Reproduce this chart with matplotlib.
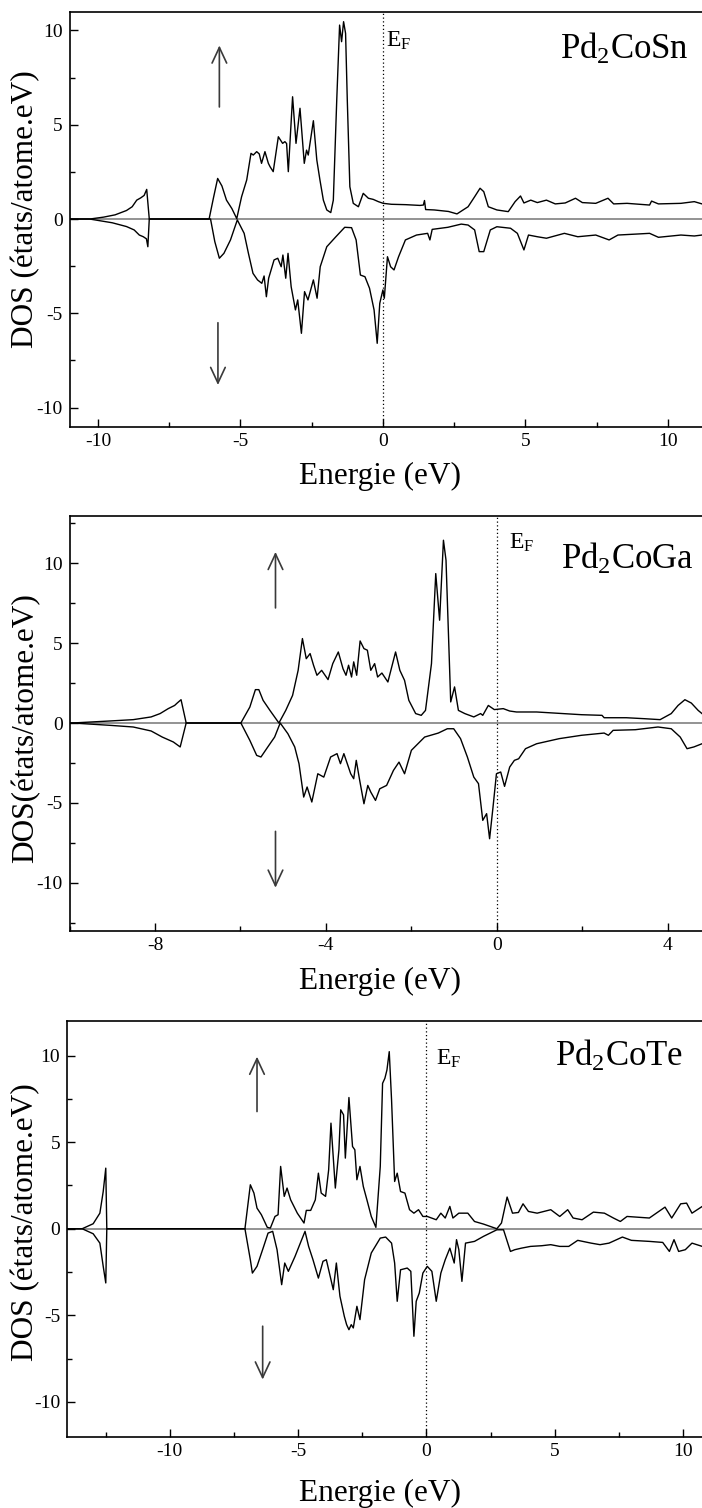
import matplotlib
matplotlib.use("Agg")
import matplotlib.pyplot as plt
from matplotlib.ticker import MultipleLocator

plt.rcParams['font.family'] = ['Liberation Serif', 'DejaVu Serif']
plt.rcParams['mathtext.fontset'] = 'custom'
plt.rcParams['mathtext.rm'] = 'Liberation Serif'
plt.rcParams['mathtext.it'] = 'Liberation Serif:italic'
plt.rcParams['axes.unicode_minus'] = False

# Pd2CoSn
sn_up_e = [-11.0, -10.28, -9.8, -9.4, -9.0, -8.8, -8.64, -8.5, -8.38, -8.29, -8.2, -6.1, -5.95, -5.80, -5.65,
           -5.49, -5.3, -5.13, -4.96, -4.78, -4.63, -4.55, -4.43, -4.34, -4.26, -4.14, -4.02, -3.96, -3.85,
           -3.67, -3.52, -3.44, -3.38, -3.32, -3.17, -3.05, -2.91, -2.76, -2.68, -2.62, -2.44, -2.32, -2.21,
           -2.09, -1.97, -1.83, -1.74, -1.62, -1.52, -1.45, -1.38, -1.31, -1.25, -1.16, -1.04, -0.86, -0.69,
           -0.51, -0.34, -0.16, 0.01, 0.3, 0.8, 1.3, 1.42, 1.46, 1.5, 1.8, 2.3, 2.6, 2.99, 3.22, 3.41, 3.54,
           3.7, 4.0, 4.4, 4.64, 4.83, 4.95, 5.19, 5.42, 5.74, 6.05, 6.4, 6.76, 7.0, 7.47, 7.9, 8.1, 8.57,
           9.36, 9.43, 9.67, 10.46, 10.93, 11.2]
sn_up_dos = [0, 0, 0.1, 0.22, 0.45, 0.65, 1.0, 1.12, 1.25, 1.57, 0, 0, 1.1, 2.15, 1.75,
             1.0, 0.55, 0.02, 1.18, 2.07, 3.48, 3.39, 3.57, 3.45, 2.95, 3.57, 2.95, 2.77, 2.51,
             4.36, 4.01, 4.10, 4.0, 2.51, 6.48, 4.01, 5.87, 2.95, 3.65, 3.39, 5.21, 3.13, 2.07,
             1.0, 0.48, 0.34, 1.0, 6.31, 10.28, 9.40, 10.46, 9.84, 6.31, 1.71, 0.83, 0.65, 1.36,
             1.10, 1.04, 0.92, 0.83, 0.78, 0.76, 0.72, 0.74, 0.98, 0.5, 0.48, 0.4, 0.27, 0.65, 1.18, 1.63, 1.45,
             0.65, 0.48, 0.39, 0.92, 1.22, 0.85, 1.0, 0.87, 1.0, 0.8, 0.85, 1.1, 0.87, 0.83, 1.1, 0.8, 0.83,
             0.74, 0.95, 0.8, 0.83, 0.92, 0.8]
sn_dn_e = [-11.0, -10.3, -9.5, -9.0, -8.73, -8.55, -8.41, -8.3, -8.25, -8.2, -6.05, -5.9, -5.74, -5.58,
           -5.35, -5.11, -4.87, -4.72, -4.56, -4.40, -4.25, -4.17, -4.09, -4.01, -3.82, -3.69, -3.57, -3.51,
           -3.41, -3.33, -3.22, -3.07, -2.99, -2.86, -2.75, -2.63, -2.44, -2.31, -2.2, -1.97, -1.65, -1.34,
           -1.1, -0.94, -0.79, -0.63, -0.47, -0.31, -0.2, -0.11, 0.0, 0.05, 0.16, 0.27, 0.39, 0.55, 0.79,
           1.18, 1.57, 1.65, 1.73, 2.28, 2.75, 2.99, 3.22, 3.38, 3.54, 3.77, 4.0, 4.48, 4.72, 4.95, 5.11,
           5.42, 5.74, 6.37, 6.84, 7.47, 7.94, 8.25, 8.88, 9.36, 9.67, 10.46, 10.93, 11.2]
sn_dn_dos = [0, 0, -0.2, -0.4, -0.58, -0.85, -0.94, -1.05, -1.47, 0, 0, -1.2, -2.08, -1.82,
             -1.11, -0.05, -0.76, -1.82, -2.88, -3.23, -3.41, -3.02, -4.12, -3.14, -2.17, -2.08, -2.53, -1.91,
             -3.14, -1.82, -3.59, -4.82, -4.29, -6.06, -3.85, -4.29, -3.23, -4.20, -2.53, -1.47, -0.94, -0.44,
             -0.46, -1.11, -2.97, -3.06, -3.67, -4.82, -6.59, -4.47, -3.76, -4.20, -2.0, -2.53, -2.70, -2.0, -1.11,
             -0.85, -0.76, -1.11, -0.55, -0.44, -0.27, -0.32, -0.58, -1.73, -1.73, -0.58, -0.41, -0.49, -0.76, -1.64, -0.85,
             -0.94, -1.02, -0.76, -0.94, -0.85, -1.11, -0.85, -0.80, -0.76, -0.97, -0.85, -0.90, -0.85]

# Pd2CoGa
ga_up_e = [-10.0, -9.93, -9.03, -8.51, -8.09, -7.88, -7.69, -7.54, -7.48, -7.39, -7.27, -5.99, -5.78, -5.65,
           -5.57, -5.47, -5.31, -5.1, -4.94, -4.78, -4.65, -4.55, -4.46, -4.37, -4.29, -4.21, -4.1, -3.95,
           -3.84, -3.71, -3.6, -3.53, -3.47, -3.4, -3.35, -3.28, -3.2, -3.11, -3.03, -2.95, -2.86, -2.79,
           -2.69, -2.55, -2.37, -2.27, -2.16, -2.06, -1.9, -1.77, -1.67, -1.53, -1.43, -1.34, -1.25, -1.19,
           -1.08, -0.99, -0.9, -0.75, -0.54, -0.38, -0.33, -0.2, -0.06, 0.15, 0.3, 0.46, 0.93, 1.98, 2.46,
           2.51, 3.03, 3.45, 3.82, 4.08, 4.24, 4.4, 4.55, 4.71, 4.8]
ga_up_dos = [0, 0, 0.13, 0.21, 0.38, 0.59, 0.9, 1.1, 1.25, 1.46, 0, 0, 1.0, 2.09,
             2.09, 1.42, 0.79, 0.0, 0.79, 1.73, 3.3, 5.29, 4.03, 4.35, 3.62, 2.99, 3.3, 2.72,
             3.72, 4.45, 3.4, 2.99, 3.62, 2.88, 3.83, 2.99, 5.14, 4.66, 4.56, 3.3, 3.72, 2.88,
             3.13, 2.57, 4.45, 3.3, 2.67, 1.42, 0.59, 0.48, 0.79, 3.72, 9.36, 6.44, 11.45, 10.2,
             1.32, 2.26, 0.79, 0.59, 0.38, 0.59, 0.48, 1.1, 0.84, 0.9, 0.75, 0.69, 0.69, 0.52, 0.48,
             0.33, 0.33, 0.27, 0.21, 0.59, 1.1, 1.46, 1.25, 0.79, 0.59]
ga_dn_e = [-10.0, -9.93, -9.03, -8.51, -8.09, -7.83, -7.57, -7.41, -7.27, -5.99, -5.78, -5.62, -5.52, -5.36,
           -5.2, -5.07, -4.89, -4.73, -4.63, -4.52, -4.44, -4.33, -4.19, -4.05, -3.89, -3.74, -3.66, -3.58,
           -3.42, -3.35, -3.29, -3.21, -3.11, -3.02, -2.95, -2.84, -2.74, -2.58, -2.42, -2.29, -2.16, -2.0,
           -1.69, -1.37, -1.16, -1.01, -0.85, -0.69, -0.54, -0.43, -0.33, -0.24, -0.17, -0.09, -0.01, 0.09,
           0.18, 0.3, 0.41, 0.51, 0.67, 0.93, 1.46, 1.98, 2.51, 2.61, 2.72, 3.24, 3.77, 4.08, 4.29, 4.45,
           4.61, 4.8]
ga_dn_dos = [0, 0, -0.15, -0.25, -0.5, -0.88, -1.19, -1.5, 0, 0, -1.09, -2.03, -2.13, -1.5,
             -0.88, 0, -0.67, -1.5, -2.55, -4.64, -4.01, -4.95, -3.18, -3.39, -2.13, -1.92, -2.55, -1.92,
             -3.18, -3.49, -2.34, -3.59, -5.06, -3.91, -4.33, -4.85, -4.12, -3.91, -2.97, -2.45, -3.18, -1.71,
             -0.88, -0.63, -0.36, -0.36, -0.98, -2.13, -3.39, -3.8, -6.1, -5.68, -7.25, -5.27, -3.18, -3.07,
             -3.97, -2.76, -2.34, -2.24, -1.61, -1.3, -0.98, -0.77, -0.63, -0.77, -0.46, -0.42, -0.25, -0.36,
             -0.88, -1.61, -1.5, -1.3]

# Pd2CoTe
te_up_e = [-14.0, -13.41, -12.98, -12.72, -12.59, -12.49, -12.45, -7.07, -6.86, -6.72, -6.6, -6.43, -6.2,
           -6.08, -5.9, -5.78, -5.68, -5.54, -5.43, -5.29, -5.03, -4.77, -4.68, -4.51, -4.33, -4.21, -4.1,
           -3.93, -3.81, -3.72, -3.55, -3.41, -3.34, -3.23, -3.16, -3.02, -2.88, -2.79, -2.71, -2.59, -2.46,
           -2.32, -2.15, -1.97, -1.8, -1.71, -1.62, -1.54, -1.45, -1.36, -1.24, -1.14, -1.01, -0.84, -0.66,
           -0.49, -0.31, -0.14, 0.03, 0.38, 0.56, 0.73, 0.91, 1.03, 1.26, 1.61, 1.87, 2.22, 2.74, 2.92, 3.14,
           3.35, 3.58, 3.76, 3.97, 4.31, 4.84, 5.19, 5.5, 5.71, 6.06, 6.5, 6.93, 7.28, 7.55, 7.81, 8.68,
           9.29, 9.55, 9.9, 10.13, 10.34, 10.74]
te_up_dos = [0, 0, 0.29, 0.9, 2.15, 3.5, 0, 0, 2.54, 2.06, 1.19, 0.81, 0.08,
             0.04, 0.71, 0.81, 3.6, 1.87, 2.35, 1.67, 0.9, 0.33, 1.06, 1.06, 1.67, 3.21, 2.06,
             1.87, 3.4, 6.1, 2.35, 4.56, 6.87, 6.58, 4.08, 7.58, 4.75, 4.56, 2.83, 3.6, 2.44,
             1.67, 0.71, 0.08, 3.6, 8.4, 8.69, 9.17, 10.23, 7.44, 2.73, 3.21, 2.15, 2.06, 1.1,
             0.9, 1.1, 0.71, 0.71, 0.52, 0.9, 0.62, 1.29, 0.62, 0.9, 0.9, 0.42, 0.27, 0.0, 0.33, 1.83,
             0.9, 0.94, 1.44, 1.0, 0.9, 1.1, 0.71, 1.1, 0.62, 0.52, 0.96, 0.9, 0.62, 0.42, 0.71, 0.62,
             1.25, 0.62, 1.44, 1.48, 0.9, 1.29]
te_dn_e = [-14.0, -13.41, -12.98, -12.72, -12.59, -12.49, -12.45, -7.07, -6.86, -6.78, -6.6, -6.34, -6.17,
           -5.99, -5.82, -5.64, -5.52, -5.38, -5.12, -4.86, -4.73, -4.59, -4.42, -4.21, -4.03, -3.9, -3.63,
           -3.51, -3.37, -3.2, -3.11, -3.02, -2.93, -2.85, -2.71, -2.59, -2.41, -2.15, -1.8, -1.59, -1.36,
           -1.24, -1.14, -1.01, -0.75, -0.61, -0.49, -0.4, -0.28, -0.14, 0.03, 0.21, 0.38, 0.56, 0.73, 0.91,
           1.08, 1.17, 1.26, 1.38, 1.52, 1.87, 2.22, 2.74, 3.0, 3.27, 3.44, 3.7, 4.05, 4.49, 4.84, 5.19,
           5.54, 5.89, 6.41, 6.76, 7.11, 7.63, 7.98, 8.68, 9.2, 9.46, 9.64, 9.82, 10.08, 10.34, 10.74]
te_dn_dos = [0, 0, -0.29, -0.83, -2.17, -3.13, 0, 0, -1.79, -2.56, -2.17, -1.02, -0.25,
             -0.15, -1.21, -3.23, -1.98, -2.46, -1.6, -0.63, -0.15, -1.02, -1.79, -2.85, -1.88, -1.79, -3.52,
             -1.98, -3.9, -5.06, -5.54, -5.83, -5.54, -5.73, -4.48, -5.25, -2.94, -1.4, -0.54, -0.48, -0.83,
             -1.98, -4.19, -2.37, -2.27, -2.46, -6.21, -4.19, -3.71, -2.56, -2.17, -2.46, -4.19, -2.56, -1.79, -1.12,
             -1.98, -0.63, -1.21, -3.04, -0.83, -0.73, -0.44, -0.06, -0.06, -1.31, -1.21, -1.12, -1.02, -0.98, -0.92, -1.02,
             -1.02, -0.67, -0.83, -0.92, -0.83, -0.48, -0.67, -0.73, -0.79, -1.31, -0.63, -1.31, -1.21, -0.83, -1.02]

panels = [
    dict(up=(sn_up_e, sn_up_dos), dn=(sn_dn_e, sn_dn_dos), xlim=(-11.0, 11.2), ylim=(-11, 11),
         xmajor=5, xminor=2.5, name=r'$\mathrm{Pd_2CoSn}$', name_xy=(6.21, 8.5), ef_xy=(0.11, 9.13),
         arrows=[(-5.74, 5.94, 9.2), (-5.79, -5.5, -8.8)], ylabel='DOS (états/atome.eV)'),
    dict(up=(ga_up_e, ga_up_dos), dn=(ga_dn_e, ga_dn_dos), xlim=(-10.0, 4.8), ylim=(-13, 13),
         xmajor=4, xminor=2, name=r'$\mathrm{Pd_2CoGa}$', name_xy=(1.51, 9.68), ef_xy=(0.28, 10.93),
         arrows=[(-5.18, 7.21, 10.72), (-5.18, -6.79, -10.32)], ylabel='DOS(états/atome.eV)'),
    dict(up=(te_up_e, te_up_dos), dn=(te_dn_e, te_dn_dos), xlim=(-14.0, 10.73), ylim=(-12, 12),
         xmajor=5, xminor=2.5, name=r'$\mathrm{Pd_2CoTe}$', name_xy=(5.01, 9.4), ef_xy=(0.38, 9.46),
         arrows=[(-6.6, 6.77, 9.94), (-6.38, -5.63, -8.71)], ylabel='DOS (états/atome.eV)'),
]

W, H = 702, 1508
fig = plt.figure(figsize=(W / 100, H / 100), dpi=100)

# axes boxes in pixels: left, top, bottom
boxes = [(69.5, 11.5, 426.5), (69.5, 515.5, 930.5), (67.0, 1021.0, 1436.5)]
ylabel_y = [209, 728, 1222]
xlabel_base = [484, 989, 1501]

for p, (left, top, bottom), yl, xb in zip(panels, boxes, ylabel_y, xlabel_base):
    ax = fig.add_axes([left / W, 1 - bottom / H, 1 - left / W, (bottom - top) / H])
    ax.axhline(0, color='#808080', lw=1.2, zorder=1)
    ax.axvline(0, color='black', lw=0.9, ls=(0, (1, 2)), zorder=1)
    ax.plot(*p['up'], color='black', lw=1.0, zorder=3)
    ax.plot(*p['dn'], color='black', lw=1.0, zorder=3)
    ax.set_xlim(*p['xlim'])
    ax.set_ylim(*p['ylim'])
    ax.xaxis.set_major_locator(MultipleLocator(p['xmajor']))
    ax.xaxis.set_minor_locator(MultipleLocator(p['xminor']))
    ax.yaxis.set_major_locator(MultipleLocator(5))
    ax.yaxis.set_minor_locator(MultipleLocator(2.5))
    ax.tick_params(which='both', direction='in', top=False, right=False, labelsize=14, width=1.0)
    ax.tick_params(which='major', length=6, pad=5)
    ax.tick_params(which='minor', length=3.5)
    ax.spines['right'].set_visible(False)
    for s in ('left', 'bottom', 'top'):
        ax.spines[s].set_linewidth(1.2)

    for x, y0, y1 in p['arrows']:
        ax.annotate('', xy=(x, y1), xytext=(x, y0),
                    arrowprops=dict(arrowstyle='->,head_length=0.75,head_width=0.35',
                                    color='#3a3a3a', lw=1.2, mutation_scale=15,
                                    shrinkA=0, shrinkB=0))

    ax.text(*p['ef_xy'], r'$\mathrm{E_F}$', fontsize=17, va='baseline', ha='left')
    ax.text(*p['name_xy'], p['name'], fontsize=25, va='baseline', ha='left')

    fig.text(26 / W, 1 - yl / H, p['ylabel'], rotation=90, fontsize=22.5, ha='center', va='center')
    fig.text(380 / W, 1 - xb / H, 'Energie (eV)', fontsize=22.5, ha='center', va='baseline')

fig.savefig('out.png', dpi=100)
